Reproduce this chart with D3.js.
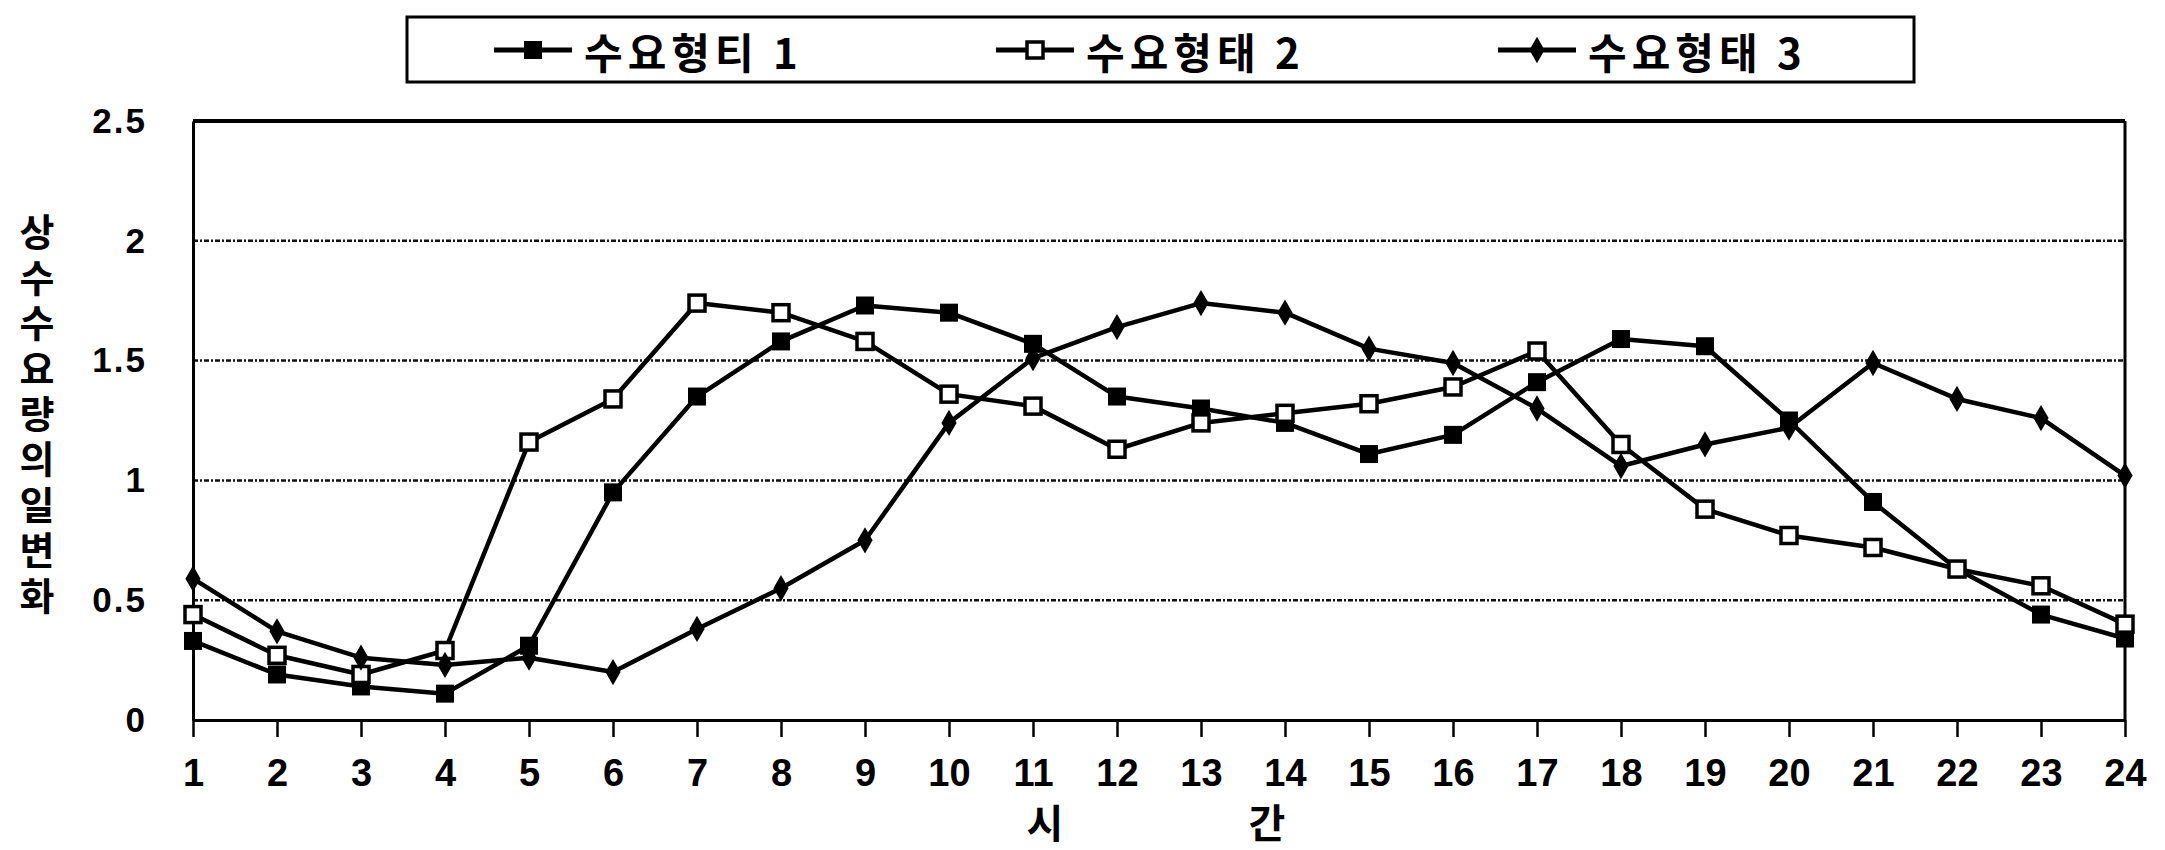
<!DOCTYPE html>
<html><head><meta charset="utf-8">
<script src="https://cdn.jsdelivr.net/npm/d3@7/dist/d3.min.js"></script>
<style>
html,body{margin:0;padding:0;background:#fff;}
svg{display:block;}
</style></head>
<body>
<svg id="c" width="2165" height="850"></svg>
<script>
const hours = d3.range(1, 25);
const seriesNames = ["수요형티 1", "수요형태 2", "수요형태 3"];
const s1 = [0.33,0.19,0.14,0.11,0.31,0.95,1.35,1.58,1.73,1.70,1.57,1.35,1.30,1.24,1.11,1.19,1.41,1.59,1.56,1.25,0.91,0.63,0.44,0.34];
const s2 = [0.44,0.27,0.19,0.29,1.16,1.34,1.74,1.70,1.58,1.36,1.31,1.13,1.24,1.28,1.32,1.39,1.54,1.15,0.88,0.77,0.72,0.63,0.56,0.40];
const s3 = [0.59,0.37,0.26,0.23,0.26,0.20,0.38,0.55,0.75,1.24,1.51,1.64,1.74,1.70,1.55,1.49,1.30,1.06,1.15,1.22,1.49,1.34,1.26,1.02];
const yTicks = [0, 0.5, 1, 1.5, 2, 2.5];
const yTickLabels = ["0", "0.5", "1", "1.5", "2", "2.5"];
const yTitle = "상수수요량의일변화";
const xTitle = ["시", "간"];

const svg = d3.select("#c");
const L = 193, R = 2125, T = 121, B = 720;
const x = d3.scalePoint().domain(hours).range([L, R]).padding(0);
const y = d3.scaleLinear().domain([0, 2.5]).range([B, T]);

// gridlines
svg.append("g").selectAll("line").data(yTicks.filter(v => v > 0 && v < 2.5)).join("line")
  .attr("x1", L).attr("x2", R).attr("y1", d => y(d)).attr("y2", d => y(d))
  .attr("stroke", "#111").attr("stroke-width", 2.5).attr("stroke-dasharray", "5,2,2,2");

// frame
svg.append("line").attr("x1", L).attr("x2", R).attr("y1", T).attr("y2", T).attr("stroke", "#000").attr("stroke-width", 4);
svg.append("line").attr("x1", R).attr("x2", R).attr("y1", T).attr("y2", B).attr("stroke", "#000").attr("stroke-width", 3);

// x axis
const xAxis = d3.axisBottom(x).tickSizeInner(17).tickSizeOuter(0).tickPadding(22);
const gx = svg.append("g").attr("transform", `translate(0,${B})`).call(xAxis);
gx.select(".domain").attr("stroke", "#000").attr("stroke-width", 3);
gx.selectAll(".tick line").attr("stroke", "#000").attr("stroke-width", 2.5);
gx.selectAll(".tick text").attr("font-family", "Liberation Sans, Arial, sans-serif")
  .attr("font-weight", "bold").attr("font-size", 38).attr("fill", "#000");

// y axis
const yAxis = d3.axisLeft(y).tickValues(yTicks).tickFormat((d, i) => yTickLabels[i]).tickSize(0).tickPadding(46);
const gy = svg.append("g").attr("transform", `translate(${L},0)`).call(yAxis);
gy.select(".domain").attr("stroke", "#000").attr("stroke-width", 3);
gy.selectAll(".tick text").attr("font-family", "Liberation Sans, Arial, sans-serif")
  .attr("font-weight", "bold").attr("font-size", 35).attr("fill", "#000").attr("letter-spacing", 2);

// y title (vertical, one text element)
svg.append("text")
  .attr("x", 37).attr("y", 213)
  .attr("writing-mode", "vertical-rl")
  .style("text-orientation", "upright")
  .attr("font-family", "Noto Sans CJK KR").attr("font-weight", "bold").attr("font-size", 38)
  .attr("letter-spacing", 7.4)
  .attr("fill", "#000").text(yTitle);

// x title
svg.append("text").attr("x", 1045).attr("y", 838).attr("text-anchor", "middle")
  .attr("font-family", "Noto Sans CJK KR").attr("font-weight", "bold").attr("font-size", 40).text(xTitle[0]);
svg.append("text").attr("x", 1267).attr("y", 838).attr("text-anchor", "middle")
  .attr("font-family", "Noto Sans CJK KR").attr("font-weight", "bold").attr("font-size", 40).text(xTitle[1]);

// series
const data = [s1, s2, s3];
const line = d3.line().x((d, i) => x(hours[i])).y(d => y(d));
const markerKinds = ["fsq", "osq", "dia"];

function drawMarker(g, kind, cx, cy, scale = 1) {
  if (kind === "fsq") {
    const s = 18 * scale;
    g.append("rect").attr("x", cx - s / 2).attr("y", cy - s / 2).attr("width", s).attr("height", s).attr("fill", "#000");
  } else if (kind === "osq") {
    const s = 16 * scale;
    g.append("rect").attr("x", cx - s / 2).attr("y", cy - s / 2).attr("width", s).attr("height", s)
      .attr("fill", "#fff").attr("stroke", "#000").attr("stroke-width", 3.5);
  } else {
    g.append("path").attr("d", d3.symbol().type(d3.symbolDiamond).size(200 * scale * scale)())
      .attr("transform", `translate(${cx},${cy})`).attr("fill", "#000");
  }
}

data.forEach((arr, k) => {
  const g = svg.append("g");
  g.append("path").datum(arr).attr("d", line).attr("fill", "none").attr("stroke", "#000").attr("stroke-width", 4.5)
    .attr("stroke-linejoin", "round");
  arr.forEach((v, i) => drawMarker(g, markerKinds[k], x(hours[i]), y(v)));
});

// legend
svg.append("rect").attr("x", 407).attr("y", 17).attr("width", 1507).attr("height", 65)
  .attr("fill", "#fff").attr("stroke", "#000").attr("stroke-width", 3);
const legX = [494, 996, 1498];
seriesNames.forEach((name, k) => {
  const g = svg.append("g");
  const cy = 50;
  g.append("line").attr("x1", legX[k]).attr("x2", legX[k] + 78).attr("y1", cy).attr("y2", cy)
    .attr("stroke", "#000").attr("stroke-width", 5);
  drawMarker(g, markerKinds[k], legX[k] + 39, cy, 1.0);
  g.append("text").attr("x", legX[k] + 90).attr("y", cy).attr("dominant-baseline", "central")
    .attr("font-family", "Noto Sans CJK KR").attr("font-weight", "bold").attr("font-size", 42)
    .attr("letter-spacing", 5).attr("fill", "#000").text(name);
});
</script>
</body></html>
